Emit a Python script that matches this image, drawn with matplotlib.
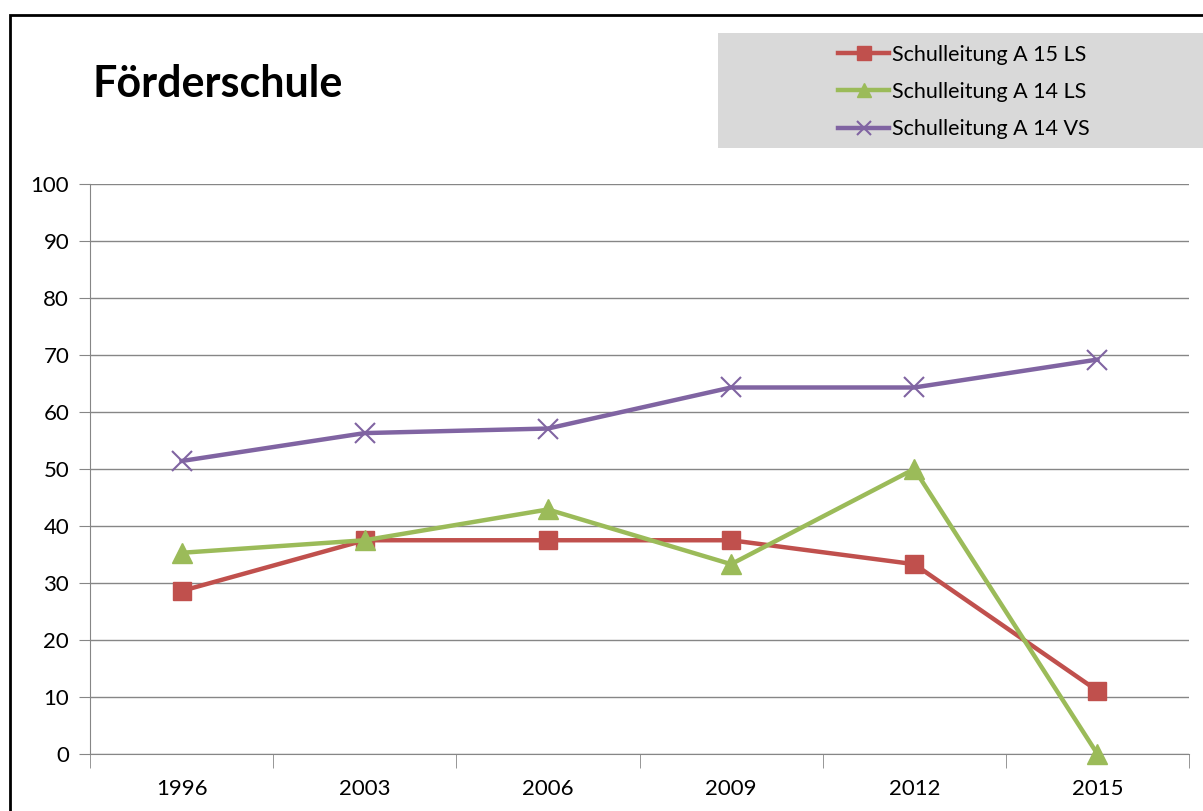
import matplotlib.pyplot as plt
from matplotlib.patches import Rectangle

years = ["1996", "2003", "2006", "2009", "2012", "2015"]
a15_ls = [28.6, 37.5, 37.5, 37.5, 33.3, 11.1]
a14_ls = [35.3, 37.5, 42.9, 33.3, 50.0, 0.0]
a14_vs = [51.4, 56.3, 57.1, 64.3, 64.3, 69.2]
yticks = list(range(0, 101, 10))

plt.rcParams['font.family'] = ['Lato', 'DejaVu Sans']

W, H = 1203, 811
fig = plt.figure(figsize=(W / 100, H / 100), dpi=100)

# outer chart frame (cut off at right and bottom like the screenshot)
fig.patches.append(Rectangle((10 / W, -0.05), 1.2, 1 - 15 / H + 0.05,
                             transform=fig.transFigure, fill=False,
                             edgecolor="black", linewidth=2, zorder=0))
# legend background
fig.patches.append(Rectangle((718 / W, 1 - 148 / H), 0.5, 115 / H,
                             transform=fig.transFigure, facecolor="#d9d9d9",
                             edgecolor="none", zorder=0))

ax = fig.add_axes([90 / W, 57 / H, 1099 / W, 570 / H])
x = list(range(len(years)))

ax.plot(x, a15_ls, color="#c0504d", linewidth=3.2, marker="s", markersize=13,
        label="Schulleitung A 15 LS", zorder=3)
ax.plot(x, a14_ls, color="#9bbb59", linewidth=3.2, marker="^", markersize=14,
        label="Schulleitung A 14 LS", zorder=3)
ax.plot(x, a14_vs, color="#8064a2", linewidth=3.2, marker="x", markersize=14,
        markeredgewidth=1.5, label="Schulleitung A 14 VS", zorder=3)

ax.set_xlim(-0.5, len(years) - 0.5)
ax.set_ylim(0, 100)
ax.set_yticks(yticks)
ax.set_xticks(x)
ax.set_xticklabels(years)
ax.set_xticks([i - 0.5 for i in range(len(years) + 1)], minor=True)
ax.tick_params(axis="x", which="major", length=0, pad=18, labelsize=16)
ax.tick_params(axis="x", which="minor", length=10, color="#868686", direction="out")
ax.tick_params(axis="y", length=8, color="#868686", labelsize=16, pad=7)
ax.grid(axis="y", color="#868686", linewidth=1)
ax.set_axisbelow(True)
for s in ("top", "right"):
    ax.spines[s].set_visible(False)
for s in ("left", "bottom"):
    ax.spines[s].set_color("#868686")
for line in ax.lines:
    line.set_clip_on(False)

fig.text(92 / W, 1 - 97 / H, "Förderschule", fontsize=31, fontweight="bold")

leg = fig.legend(loc="upper left", bbox_to_anchor=(827 / W, 1 - 34 / H),
                 frameon=False, fontsize=15.5, handlelength=2.4,
                 handletextpad=0.1, labelspacing=0.8, borderpad=0)
for h in leg.legend_handles:
    h.set_markersize(10)

fig.savefig("out.png", dpi=100)
